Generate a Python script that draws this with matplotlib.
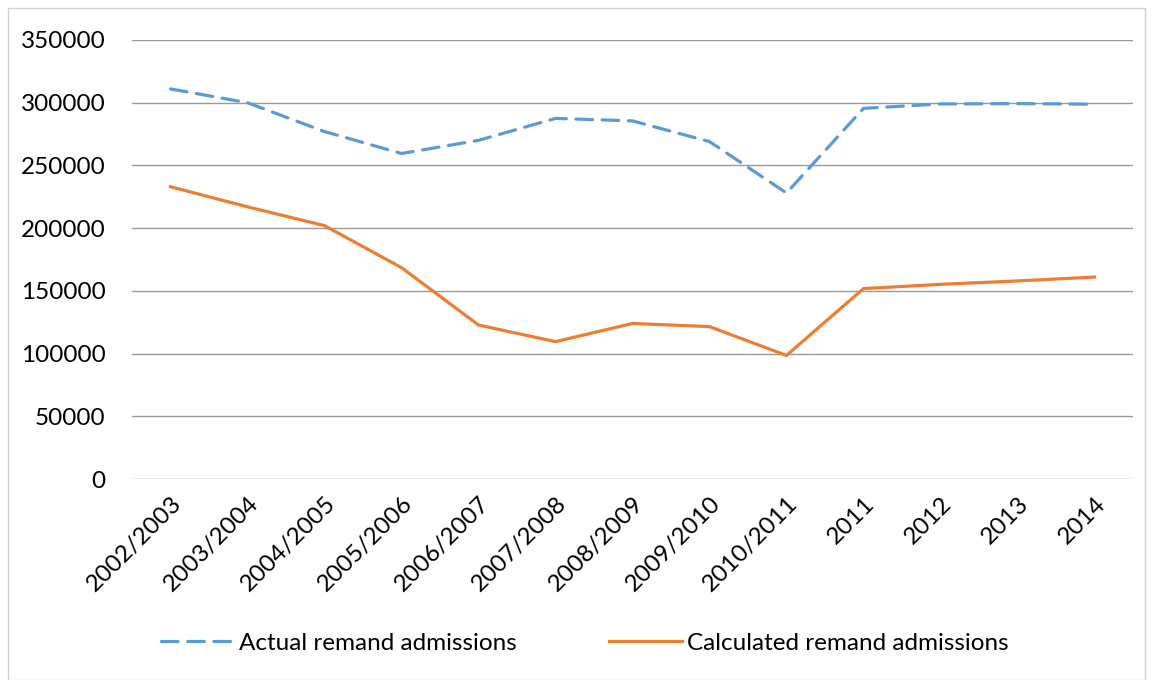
import numpy as np
import matplotlib.pyplot as plt
from matplotlib.patches import Rectangle

years = ['2002/2003', '2003/2004', '2004/2005', '2005/2006', '2006/2007',
         '2007/2008', '2008/2009', '2009/2010', '2010/2011', '2011',
         '2012', '2013', '2014']
actual = [311000, 300000, 277000, 259500, 270000, 287500, 285500,
          269000, 228000, 295500, 299000, 299300, 298800]
calculated = [233000, 217000, 202000, 168500, 122800, 109500, 124000,
              121500, 98500, 151800, 155200, 157900, 161000]

plt.rcParams['font.family'] = ['Lato', 'DejaVu Sans']

fig = plt.figure(figsize=(11.53, 6.8), dpi=100)
ax = fig.add_axes([132 / 1153, 1 - 479 / 680, (1133 - 132) / 1153, (479 - 40) / 680])

x = np.arange(len(years))
ax.plot(x, actual, color='#5B9BD5', lw=2.3, dashes=(5.2, 3.0),
        solid_capstyle='round', dash_capstyle='round',
        label='Actual remand admissions')
ax.plot(x, calculated, color='#ED7D31', lw=2.3, solid_joinstyle='miter',
        label='Calculated remand admissions')

ax.set_xlim(-0.5, len(years) - 0.5)
ax.set_ylim(0, 350000)
ax.set_yticks(np.arange(0, 350001, 50000))
ax.set_yticklabels([str(v) for v in range(0, 350001, 50000)], fontsize=17.5)
ax.set_xticks(x)
ax.set_xticklabels(years, rotation=45, ha='right', rotation_mode='anchor', fontsize=17.5)
ax.tick_params(length=0, pad=10)
ax.tick_params(axis='y', pad=19)
ax.grid(axis='y', color='#999999', lw=1)
ax.set_axisbelow(True)
for s in ax.spines.values():
    s.set_visible(False)

fig.legend(loc='center', bbox_to_anchor=(585 / 1153, 1 - 643 / 680), ncol=2,
           frameon=False, fontsize=17.5, handlelength=3.0, columnspacing=3.8,
           handletextpad=0.2)

fig.patches.append(Rectangle((8 / 1153, 0), 1 - 16 / 1153, 1 - 8 / 680,
                             transform=fig.transFigure, fill=False,
                             edgecolor='#D0D0D0', lw=1))

fig.savefig('out.png', dpi=100)
